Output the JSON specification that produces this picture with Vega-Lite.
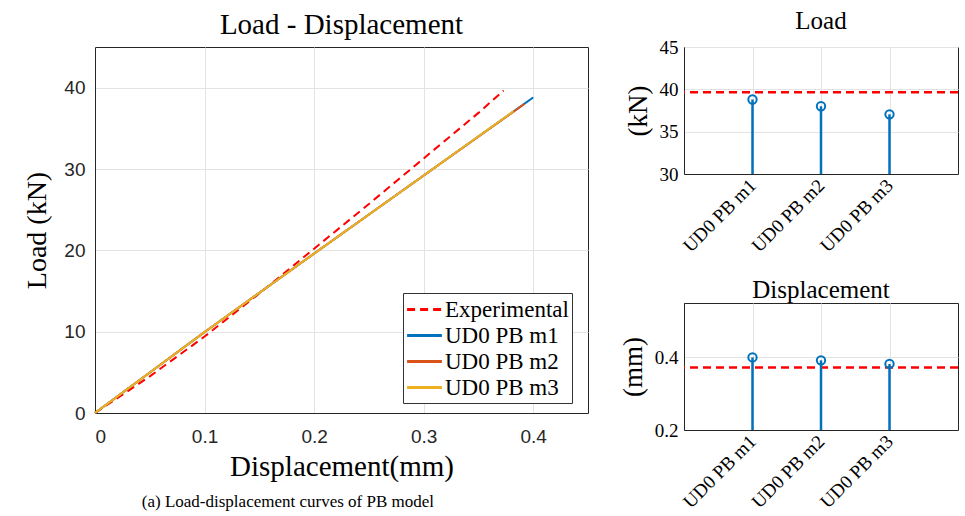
{
  "$schema": "https://vega.github.io/schema/vega-lite/v6.json",
  "background": "white",
  "padding": {"left": 23, "top": 8, "right": 4, "bottom": 2},
  "config": {
    "view": {"stroke": "#262626", "strokeWidth": 1},
    "axis": {
      "domainColor": "#262626",
      "ticks": false,
      "gridColor": "#e3e3e3",
      "gridWidth": 1,
      "labelColor": "#262626",
      "titleColor": "#000000",
      "titleFontWeight": "normal"
    },
    "title": {"fontWeight": "normal", "color": "#000000", "font": "Liberation Serif"}
  },
  "datasets": {
    "curves": [
      {"series": "Experimental", "disp": 0, "load": 0},
      {"series": "Experimental", "disp": 0.05, "load": 4.5},
      {"series": "Experimental", "disp": 0.1, "load": 9.4},
      {"series": "Experimental", "disp": 0.15, "load": 14.7},
      {"series": "Experimental", "disp": 0.2, "load": 20.2},
      {"series": "Experimental", "disp": 0.25, "load": 25.7},
      {"series": "Experimental", "disp": 0.3, "load": 31.3},
      {"series": "Experimental", "disp": 0.35, "load": 36.9},
      {"series": "Experimental", "disp": 0.373, "load": 39.65},
      {"series": "UD0 PB m1", "disp": 0, "load": 0},
      {"series": "UD0 PB m1", "disp": 0.1, "load": 9.95},
      {"series": "UD0 PB m1", "disp": 0.2, "load": 19.6},
      {"series": "UD0 PB m1", "disp": 0.3, "load": 29.2},
      {"series": "UD0 PB m1", "disp": 0.4, "load": 38.8},
      {"series": "UD0 PB m2", "disp": 0, "load": 0},
      {"series": "UD0 PB m2", "disp": 0.1, "load": 9.95},
      {"series": "UD0 PB m2", "disp": 0.2, "load": 19.6},
      {"series": "UD0 PB m2", "disp": 0.3, "load": 29.2},
      {"series": "UD0 PB m2", "disp": 0.392, "load": 38.0},
      {"series": "UD0 PB m3", "disp": 0, "load": 0},
      {"series": "UD0 PB m3", "disp": 0.1, "load": 9.95},
      {"series": "UD0 PB m3", "disp": 0.2, "load": 19.6},
      {"series": "UD0 PB m3", "disp": 0.3, "load": 29.2},
      {"series": "UD0 PB m3", "disp": 0.382, "load": 37.1}
    ],
    "models": [
      {"model": "UD0 PB m1", "load": 38.8, "disp": 0.4},
      {"model": "UD0 PB m2", "load": 38.0, "disp": 0.392},
      {"model": "UD0 PB m3", "load": 37.05, "disp": 0.382}
    ],
    "exp": [
      {"load": 39.65, "disp": 0.372}
    ]
  },
  "spacing": 29,
  "align": "none",
  "hconcat": [
    {
      "title": {"text": "(a) Load-displacement curves of PB model", "orient": "bottom", "anchor": "middle", "fontSize": 17, "offset": 12, "dx": -18},
      "vconcat": [
        {
          "width": 493,
          "height": 366,
          "title": {"text": "Load - Displacement", "fontSize": 29, "offset": 7},
          "data": {"name": "curves"},
          "mark": {"type": "line", "strokeWidth": 2},
          "encoding": {
            "x": {
              "field": "disp", "type": "quantitative",
              "scale": {"domain": [0, 0.45], "nice": false},
              "axis": {"values": [0, 0.1, 0.2, 0.3, 0.4], "format": "~g", "title": "Displacement(mm)",
                "labelFont": "Liberation Sans", "labelFontSize": 19, "labelPadding": 14,
                "titleFont": "Liberation Serif", "titleFontSize": 29, "titlePadding": 6}
            },
            "y": {
              "field": "load", "type": "quantitative",
              "scale": {"domain": [0, 45], "nice": false},
              "axis": {"values": [0, 10, 20, 30, 40], "title": "Load (kN)",
                "labelFont": "Liberation Sans", "labelFontSize": 19, "labelPadding": 10,
                "titleFont": "Liberation Serif", "titleFontSize": 28, "titlePadding": 12}
            },
            "color": {
              "field": "series", "type": "nominal",
              "scale": {"domain": ["Experimental", "UD0 PB m1", "UD0 PB m2", "UD0 PB m3"], "range": ["#FF0000", "#0072BD", "#D95319", "#EDB120"]},
              "legend": {"title": null, "orient": "none", "legendX": 308, "legendY": 246, "symbolType": "M-1.45,0L1.45,0", "symbolSize": 576, "symbolStrokeWidth": 3, "symbolOffset": 5,
                "labelFont": "Liberation Serif", "labelFontSize": 23, "labelColor": "#000000", "strokeColor": "#333333", "fillColor": "white", "padding": 3, "rowPadding": 0, "labelOffset": 7}
            },
            "strokeDash": {
              "field": "series", "type": "nominal",
              "scale": {"domain": ["Experimental", "UD0 PB m1", "UD0 PB m2", "UD0 PB m3"], "range": [[8, 5], [1, 0], [1, 0], [1, 0]]},
              "legend": {"title": null, "orient": "none", "legendX": 308, "legendY": 246, "symbolType": "M-1.45,0L1.45,0", "symbolSize": 576, "symbolStrokeWidth": 3, "symbolOffset": 5,
                "labelFont": "Liberation Serif", "labelFontSize": 23, "labelColor": "#000000", "strokeColor": "#333333", "fillColor": "white", "padding": 3, "rowPadding": 0, "labelOffset": 7}
            }
          }
        }
      ]
    },
    {
      "spacing": 20,
      "vconcat": [
        {
          "width": 274,
          "height": 127,
          "title": {"text": "Load", "fontSize": 25, "offset": 4},
          "layer": [
            {
              "data": {"name": "exp"},
              "mark": {"type": "rule", "color": "#FF0000", "strokeWidth": 2.5, "strokeDash": [8, 5]},
              "encoding": {"y": {"field": "load", "type": "quantitative", "scale": {"domain": [30, 45], "nice": false, "zero": false}}}
            },
            {
              "data": {"name": "models"},
              "mark": {"type": "rule", "color": "#0072BD", "strokeWidth": 2.5},
              "encoding": {
                "x": {"field": "model", "type": "ordinal", "scale": {"type": "point", "padding": 1}},
                "y": {"field": "load", "type": "quantitative", "scale": {"domain": [30, 45], "nice": false, "zero": false}},
                "y2": {"datum": 30}
              }
            },
            {
              "data": {"name": "models"},
              "mark": {"type": "point", "shape": "circle", "filled": false, "color": "#0072BD", "strokeWidth": 2, "size": 70, "opacity": 1},
              "encoding": {
                "x": {"field": "model", "type": "ordinal",
                  "scale": {"type": "point", "padding": 1},
                  "axis": {"title": null, "labelAngle": -45, "labelFont": "Liberation Serif", "labelFontSize": 19, "labelColor": "#000000", "labelPadding": 8, "grid": true}},
                "y": {"field": "load", "type": "quantitative",
                  "scale": {"domain": [30, 45], "nice": false, "zero": false},
                  "axis": {"values": [30, 35, 40, 45], "title": "(kN)", "labelFont": "Liberation Serif", "labelFontSize": 19, "labelColor": "#000000", "labelPadding": 6,
                    "titleFont": "Liberation Serif", "titleFontSize": 27, "titlePadding": 7}}
              }
            }
          ]
        },
        {
          "width": 274,
          "height": 127,
          "title": {"text": "Displacement", "fontSize": 25, "offset": 0},
          "layer": [
            {
              "data": {"name": "exp"},
              "mark": {"type": "rule", "color": "#FF0000", "strokeWidth": 2.5, "strokeDash": [8, 5]},
              "encoding": {"y": {"field": "disp", "type": "quantitative", "scale": {"domain": [0.2, 0.55], "nice": false, "zero": false}}}
            },
            {
              "data": {"name": "models"},
              "mark": {"type": "rule", "color": "#0072BD", "strokeWidth": 2.5},
              "encoding": {
                "x": {"field": "model", "type": "ordinal", "scale": {"type": "point", "padding": 1}},
                "y": {"field": "disp", "type": "quantitative", "scale": {"domain": [0.2, 0.55], "nice": false, "zero": false}},
                "y2": {"datum": 0.2}
              }
            },
            {
              "data": {"name": "models"},
              "mark": {"type": "point", "shape": "circle", "filled": false, "color": "#0072BD", "strokeWidth": 2, "size": 70, "opacity": 1},
              "encoding": {
                "x": {"field": "model", "type": "ordinal",
                  "scale": {"type": "point", "padding": 1},
                  "axis": {"title": null, "labelAngle": -45, "labelFont": "Liberation Serif", "labelFontSize": 19, "labelColor": "#000000", "labelPadding": 8, "grid": true}},
                "y": {"field": "disp", "type": "quantitative",
                  "scale": {"domain": [0.2, 0.55], "nice": false, "zero": false},
                  "axis": {"values": [0.2, 0.4], "format": ".1f", "title": "(mm)", "labelFont": "Liberation Serif", "labelFontSize": 19, "labelColor": "#000000", "labelPadding": 6,
                    "titleFont": "Liberation Serif", "titleFontSize": 27, "titlePadding": 7}}
              }
            }
          ]
        }
      ]
    }
  ]
}
